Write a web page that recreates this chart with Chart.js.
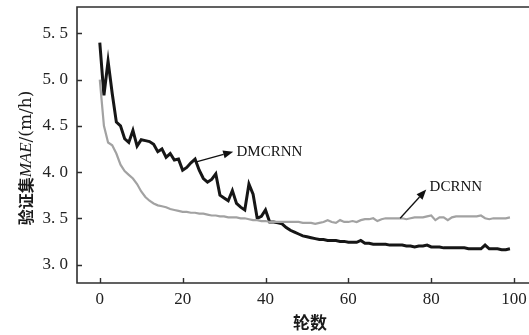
<!DOCTYPE html>
<html><head><meta charset="utf-8">
<script src="https://cdn.jsdelivr.net/npm/chart.js@4/dist/chart.umd.min.js"></script>
<style>html,body{margin:0;padding:0;background:#fff}#wrap{width:529px;height:335px}</style>
</head><body><div id="wrap"><canvas id="c" width="529" height="335"></canvas></div>
<script>
// ---- data ----
const epochs = Array.from({length: 100}, (_, i) => i);
const dmcrnn = [
 5.40,4.83,5.20,4.85,4.54,4.50,4.36,4.32,4.45,4.28,
 4.35,4.34,4.33,4.30,4.22,4.25,4.16,4.20,4.13,4.14,
 4.02,4.05,4.10,4.14,4.02,3.93,3.89,3.92,3.98,3.75,
 3.72,3.69,3.80,3.66,3.62,3.59,3.87,3.76,3.50,3.52,
 3.59,3.46,3.46,3.45,3.44,3.40,3.37,3.35,3.33,3.31,
 3.30,3.29,3.28,3.27,3.27,3.26,3.26,3.26,3.25,3.25,
 3.24,3.24,3.24,3.26,3.23,3.23,3.22,3.22,3.22,3.22,
 3.21,3.21,3.21,3.21,3.20,3.20,3.19,3.20,3.20,3.21,
 3.19,3.19,3.19,3.18,3.18,3.18,3.18,3.18,3.18,3.17,
 3.17,3.17,3.17,3.21,3.17,3.17,3.17,3.16,3.16,3.17
];
const dcrnn = [
 5.00,4.50,4.32,4.29,4.20,4.08,4.01,3.97,3.93,3.87,
 3.79,3.73,3.69,3.66,3.64,3.63,3.62,3.60,3.59,3.58,
 3.57,3.57,3.56,3.56,3.55,3.55,3.54,3.53,3.53,3.52,
 3.52,3.51,3.51,3.51,3.50,3.50,3.49,3.48,3.48,3.47,
 3.47,3.46,3.46,3.46,3.46,3.46,3.46,3.46,3.46,3.45,
 3.45,3.45,3.44,3.45,3.46,3.48,3.46,3.45,3.48,3.46,
 3.46,3.47,3.46,3.48,3.49,3.49,3.50,3.47,3.49,3.50,
 3.50,3.50,3.50,3.50,3.49,3.50,3.51,3.51,3.51,3.52,
 3.53,3.48,3.51,3.51,3.48,3.51,3.52,3.52,3.52,3.52,
 3.52,3.52,3.53,3.50,3.49,3.50,3.50,3.50,3.50,3.51
];
const xTicks = [0, 20, 40, 60, 80, 100];
const yTicks = [3.0, 3.5, 4.0, 4.5, 5.0, 5.5];
const xTitle = '轮数';
const yTitleParts = ['验证集', 'MAE', '/(m/h)'];
// annotation arrows in data coordinates: tail, head, label anchor
const labelDM = {text: 'DMCRNN', tail: [23.3, 4.11], head: [32.2, 4.22], at: [33.0, 4.22]};
const labelDC = {text: 'DCRNN', tail: [72.5, 3.50], head: [78.8, 3.81], at: [79.6, 3.84]};

const AX = '#2e2e2e';
const deco = {
  id: 'deco',
  afterDraw(chart) {
    const ctx = chart.ctx, ca = chart.chartArea;
    const xs = chart.scales.x, ys = chart.scales.y;
    ctx.save();
    ctx.strokeStyle = AX; ctx.lineWidth = 1.6; ctx.lineCap = 'square';
    ctx.beginPath();
    ctx.moveTo(ca.left, ca.top); ctx.lineTo(ca.right, ca.top);
    ctx.moveTo(ca.left, ca.top); ctx.lineTo(ca.left, ca.bottom);
    ctx.lineTo(ca.right, ca.bottom);
    ctx.stroke();
    ctx.lineWidth = 1.4; ctx.lineCap = 'butt';
    ctx.beginPath();
    xTicks.forEach(v => { const p = Math.round(xs.getPixelForValue(v)) + 0.5; ctx.moveTo(p, ca.bottom); ctx.lineTo(p, ca.bottom - 5); });
    yTicks.forEach(v => { const p = Math.round(ys.getPixelForValue(v)) + 0.5; ctx.moveTo(ca.left, p); ctx.lineTo(ca.left + 5, p); });
    ctx.stroke();

    // arrows + labels
    [labelDM, labelDC].forEach((a) => {
      const x1 = xs.getPixelForValue(a.tail[0]), y1 = ys.getPixelForValue(a.tail[1]);
      const x2 = xs.getPixelForValue(a.head[0]), y2 = ys.getPixelForValue(a.head[1]);
      const ang = Math.atan2(y2 - y1, x2 - x1);
      const hl = 10, hw = 4;
      const bx = x2 - hl * Math.cos(ang), by = y2 - hl * Math.sin(ang);
      ctx.strokeStyle = '#111'; ctx.fillStyle = '#111'; ctx.lineWidth = 1.3;
      ctx.beginPath(); ctx.moveTo(x1, y1); ctx.lineTo(bx, by); ctx.stroke();
      ctx.beginPath();
      ctx.moveTo(x2, y2);
      ctx.lineTo(bx + hw * Math.sin(ang), by - hw * Math.cos(ang));
      ctx.lineTo(bx - hw * Math.sin(ang), by + hw * Math.cos(ang));
      ctx.closePath(); ctx.fill();
      ctx.font = '15px "Liberation Serif"';
      ctx.textAlign = 'left'; ctx.textBaseline = 'middle';
      ctx.fillText(a.text, xs.getPixelForValue(a.at[0]), ys.getPixelForValue(a.at[1]));
    });

    // x title
    ctx.fillStyle = '#1a1a1a';
    ctx.font = 'bold 17px "Noto Sans CJK SC"';
    ctx.textAlign = 'center'; ctx.textBaseline = 'middle';
    ctx.fillText(xTitle, 310, 323);

    // y title (rotated)
    ctx.translate(26, 158);
    ctx.rotate(-Math.PI / 2);
    const fonts = ['bold 16px "Noto Sans CJK SC"', 'italic 17px "Liberation Serif"', '17px "DejaVu Serif"'];
    let widths = yTitleParts.map((t, i) => { ctx.font = fonts[i]; return ctx.measureText(t).width; });
    let total = widths.reduce((s, w) => s + w, 0);
    let x = -total / 2;
    ctx.textAlign = 'left'; ctx.textBaseline = 'middle';
    yTitleParts.forEach((t, i) => { ctx.font = fonts[i]; ctx.fillText(t, x, i === 0 ? 0 : 1); x += widths[i]; });
    ctx.restore();
  }
};

new Chart(document.getElementById('c'), {
  type: 'line',
  data: {
    datasets: [
      {label: 'DCRNN', data: epochs.map((e, i) => ({x: e, y: dcrnn[i]})), borderColor: '#a2a2a2', borderWidth: 2.2, pointRadius: 0, tension: 0, fill: false},
      {label: 'DMCRNN', data: epochs.map((e, i) => ({x: e, y: dmcrnn[i]})), borderColor: '#161616', borderWidth: 3, pointRadius: 0, tension: 0, fill: false}
    ]
  },
  options: {
    responsive: false, animation: false, devicePixelRatio: 1,
    layout: {padding: {top: 7, right: 0, left: 0, bottom: 0}},
    plugins: {legend: {display: false}, tooltip: {enabled: false}},
    scales: {
      x: {
        type: 'linear', min: -5.5, max: 103.6,
        afterBuildTicks(s) { s.ticks = xTicks.map(v => ({value: v})); },
        afterFit(s) { s.height = 52; s.paddingLeft = 0; s.paddingRight = 0; },
        grid: {display: false, drawTicks: false}, border: {display: false},
        ticks: {padding: 6, color: '#222', font: {family: '"Liberation Serif"', size: 17}, maxRotation: 0, autoSkip: false,
          callback: v => String(v)}
      },
      y: {
        type: 'linear', min: 2.8, max: 5.785,
        afterBuildTicks(s) { s.ticks = yTicks.map(v => ({value: v})); },
        afterFit(s) { s.width = 77; s.paddingTop = 0; s.paddingBottom = 0; },
        grid: {display: false, drawTicks: false}, border: {display: false},
        ticks: {padding: 9, color: '#222', font: {family: '"Liberation Serif"', size: 17},
          callback: v => Number(v).toFixed(1).replace('.', '. ')}
      }
    }
  },
  plugins: [deco]
});
</script></body></html>
